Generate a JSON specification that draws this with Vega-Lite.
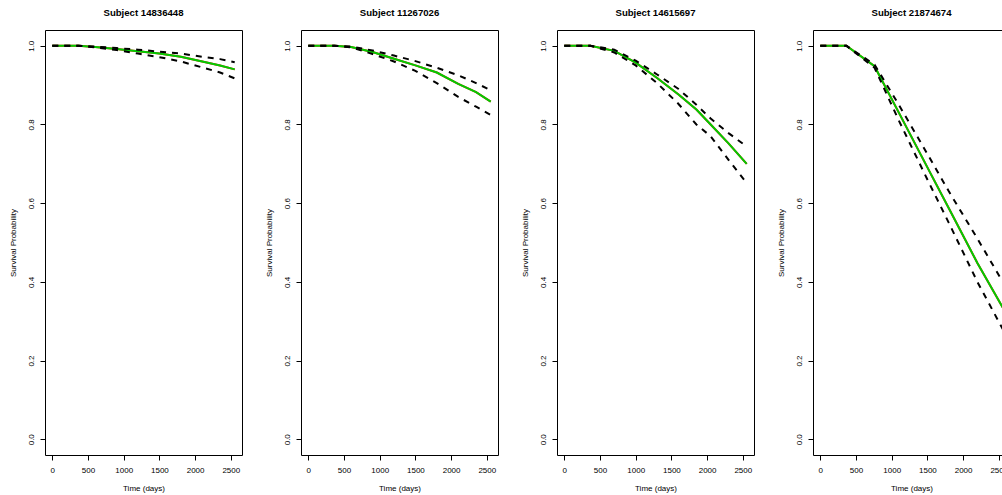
{
  "$schema": "https://vega.github.io/schema/vega-lite/v6.json",
  "background": "white",
  "autosize": {"type": "pad"},
  "padding": {"left": 8, "top": 7, "right": 0, "bottom": 0},
  "config": {
    "font": "Liberation Sans",
    "view": {"stroke": "#000000", "strokeWidth": 1},
    "axis": {
      "domain": false, "grid": false,
      "tickColor": "#000000", "tickSize": 5, "tickWidth": 1,
      "labelColor": "#000000", "labelFontSize": 8, "labelFont": "Liberation Sans",
      "titleColor": "#000000", "titleFontSize": 8, "titleFontWeight": "normal", "titleFont": "Liberation Sans"
    },
    "axisX": {"labelPadding": 6, "titlePadding": 10, "labelAngle": 0, "format": "d"},
    "axisY": {"labelPadding": 5, "titlePadding": 10, "labelAngle": -90, "labelAlign": "center", "labelBaseline": "bottom", "format": ".1f"},
    "title": {"fontSize": 9.6, "fontWeight": "bold", "color": "#000000", "font": "Liberation Sans", "baseline": "alphabetic", "offset": 12},
    "line": {"strokeWidth": 2}
  },
  "datasets": {
    "surv": [
      {"subject": "14836448", "time": 0, "est": 1, "lower": 1, "upper": 1},
      {"subject": "14836448", "time": 365, "est": 1, "lower": 1, "upper": 1},
      {"subject": "14836448", "time": 600, "est": 0.997, "lower": 0.996, "upper": 0.998},
      {"subject": "14836448", "time": 900, "est": 0.992, "lower": 0.989, "upper": 0.994},
      {"subject": "14836448", "time": 1200, "est": 0.986, "lower": 0.980, "upper": 0.990},
      {"subject": "14836448", "time": 1500, "est": 0.980, "lower": 0.971, "upper": 0.985},
      {"subject": "14836448", "time": 1800, "est": 0.972, "lower": 0.960, "upper": 0.980},
      {"subject": "14836448", "time": 2100, "est": 0.960, "lower": 0.945, "upper": 0.972},
      {"subject": "14836448", "time": 2350, "est": 0.950, "lower": 0.932, "upper": 0.966},
      {"subject": "14836448", "time": 2555, "est": 0.940, "lower": 0.917, "upper": 0.958},
      {"subject": "11267026", "time": 0, "est": 1, "lower": 1, "upper": 1},
      {"subject": "11267026", "time": 365, "est": 1, "lower": 1, "upper": 1},
      {"subject": "11267026", "time": 600, "est": 0.997, "lower": 0.996, "upper": 0.998},
      {"subject": "11267026", "time": 900, "est": 0.984, "lower": 0.979, "upper": 0.988},
      {"subject": "11267026", "time": 1200, "est": 0.967, "lower": 0.960, "upper": 0.975},
      {"subject": "11267026", "time": 1500, "est": 0.950, "lower": 0.936, "upper": 0.961},
      {"subject": "11267026", "time": 1800, "est": 0.932, "lower": 0.905, "upper": 0.944},
      {"subject": "11267026", "time": 2100, "est": 0.903, "lower": 0.870, "upper": 0.925},
      {"subject": "11267026", "time": 2350, "est": 0.882, "lower": 0.845, "upper": 0.905},
      {"subject": "11267026", "time": 2555, "est": 0.858, "lower": 0.824, "upper": 0.887},
      {"subject": "14615697", "time": 0, "est": 1, "lower": 1, "upper": 1},
      {"subject": "14615697", "time": 365, "est": 1, "lower": 1, "upper": 1},
      {"subject": "14615697", "time": 700, "est": 0.987, "lower": 0.983, "upper": 0.990},
      {"subject": "14615697", "time": 1000, "est": 0.957, "lower": 0.950, "upper": 0.962},
      {"subject": "14615697", "time": 1300, "est": 0.918, "lower": 0.905, "upper": 0.927},
      {"subject": "14615697", "time": 1600, "est": 0.876, "lower": 0.852, "upper": 0.890},
      {"subject": "14615697", "time": 1850, "est": 0.838, "lower": 0.800, "upper": 0.850},
      {"subject": "14615697", "time": 2050, "est": 0.800, "lower": 0.770, "upper": 0.815},
      {"subject": "14615697", "time": 2300, "est": 0.752, "lower": 0.710, "upper": 0.778},
      {"subject": "14615697", "time": 2555, "est": 0.700, "lower": 0.651, "upper": 0.744},
      {"subject": "21874674", "time": 0, "est": 1, "lower": 1, "upper": 1},
      {"subject": "21874674", "time": 365, "est": 1, "lower": 1, "upper": 1},
      {"subject": "21874674", "time": 760, "est": 0.948, "lower": 0.944, "upper": 0.952},
      {"subject": "21874674", "time": 1100, "est": 0.830, "lower": 0.810, "upper": 0.850},
      {"subject": "21874674", "time": 1500, "est": 0.691, "lower": 0.660, "upper": 0.725},
      {"subject": "21874674", "time": 1800, "est": 0.587, "lower": 0.550, "upper": 0.630},
      {"subject": "21874674", "time": 2200, "est": 0.448, "lower": 0.400, "upper": 0.510},
      {"subject": "21874674", "time": 2555, "est": 0.335, "lower": 0.280, "upper": 0.400}
    ]
  },
  "spacing": 59,
  "bounds": "flush",
  "hconcat": [
    {
      "title": "Subject 14836448",
      "width": 197, "height": 425,
      "data": {"name": "surv"},
      "transform": [{"filter": "datum.subject == '14836448'"}],
      "encoding": {"x": {"field": "time", "type": "quantitative", "title": "Time (days)", "scale": {"domain": [-102, 2657], "nice": false, "zero": false}, "axis": {"values": [0, 500, 1000, 1500, 2000, 2500]}}},
      "layer": [
        {"mark": {"type": "line", "color": "#ff0000"}, "encoding": {"y": {"field": "est", "type": "quantitative", "title": "Survival Probability", "scale": {"domain": [-0.04, 1.04], "nice": false, "zero": false}, "axis": {"values": [0, 0.2, 0.4, 0.6, 0.8, 1.0]}}}},
        {"mark": {"type": "line", "color": "#00cd00"}, "encoding": {"y": {"field": "est", "type": "quantitative", "title": "Survival Probability"}}},
        {"mark": {"type": "line", "color": "#000000", "strokeDash": [6, 6]}, "encoding": {"y": {"field": "lower", "type": "quantitative", "title": "Survival Probability"}}},
        {"mark": {"type": "line", "color": "#000000", "strokeDash": [6, 6]}, "encoding": {"y": {"field": "upper", "type": "quantitative", "title": "Survival Probability"}}}
      ]
    },
    {
      "title": "Subject 11267026",
      "width": 197, "height": 425,
      "data": {"name": "surv"},
      "transform": [{"filter": "datum.subject == '11267026'"}],
      "encoding": {"x": {"field": "time", "type": "quantitative", "title": "Time (days)", "scale": {"domain": [-102, 2657], "nice": false, "zero": false}, "axis": {"values": [0, 500, 1000, 1500, 2000, 2500]}}},
      "layer": [
        {"mark": {"type": "line", "color": "#ff0000"}, "encoding": {"y": {"field": "est", "type": "quantitative", "title": "Survival Probability", "scale": {"domain": [-0.04, 1.04], "nice": false, "zero": false}, "axis": {"values": [0, 0.2, 0.4, 0.6, 0.8, 1.0]}}}},
        {"mark": {"type": "line", "color": "#00cd00"}, "encoding": {"y": {"field": "est", "type": "quantitative", "title": "Survival Probability"}}},
        {"mark": {"type": "line", "color": "#000000", "strokeDash": [6, 6]}, "encoding": {"y": {"field": "lower", "type": "quantitative", "title": "Survival Probability"}}},
        {"mark": {"type": "line", "color": "#000000", "strokeDash": [6, 6]}, "encoding": {"y": {"field": "upper", "type": "quantitative", "title": "Survival Probability"}}}
      ]
    },
    {
      "title": "Subject 14615697",
      "width": 197, "height": 425,
      "data": {"name": "surv"},
      "transform": [{"filter": "datum.subject == '14615697'"}],
      "encoding": {"x": {"field": "time", "type": "quantitative", "title": "Time (days)", "scale": {"domain": [-102, 2657], "nice": false, "zero": false}, "axis": {"values": [0, 500, 1000, 1500, 2000, 2500]}}},
      "layer": [
        {"mark": {"type": "line", "color": "#ff0000"}, "encoding": {"y": {"field": "est", "type": "quantitative", "title": "Survival Probability", "scale": {"domain": [-0.04, 1.04], "nice": false, "zero": false}, "axis": {"values": [0, 0.2, 0.4, 0.6, 0.8, 1.0]}}}},
        {"mark": {"type": "line", "color": "#00cd00"}, "encoding": {"y": {"field": "est", "type": "quantitative", "title": "Survival Probability"}}},
        {"mark": {"type": "line", "color": "#000000", "strokeDash": [6, 6]}, "encoding": {"y": {"field": "lower", "type": "quantitative", "title": "Survival Probability"}}},
        {"mark": {"type": "line", "color": "#000000", "strokeDash": [6, 6]}, "encoding": {"y": {"field": "upper", "type": "quantitative", "title": "Survival Probability"}}}
      ]
    },
    {
      "title": "Subject 21874674",
      "width": 197, "height": 425,
      "data": {"name": "surv"},
      "transform": [{"filter": "datum.subject == '21874674'"}],
      "encoding": {"x": {"field": "time", "type": "quantitative", "title": "Time (days)", "scale": {"domain": [-102, 2657], "nice": false, "zero": false}, "axis": {"values": [0, 500, 1000, 1500, 2000, 2500]}}},
      "layer": [
        {"mark": {"type": "line", "color": "#ff0000"}, "encoding": {"y": {"field": "est", "type": "quantitative", "title": "Survival Probability", "scale": {"domain": [-0.04, 1.04], "nice": false, "zero": false}, "axis": {"values": [0, 0.2, 0.4, 0.6, 0.8, 1.0]}}}},
        {"mark": {"type": "line", "color": "#00cd00"}, "encoding": {"y": {"field": "est", "type": "quantitative", "title": "Survival Probability"}}},
        {"mark": {"type": "line", "color": "#000000", "strokeDash": [6, 6]}, "encoding": {"y": {"field": "lower", "type": "quantitative", "title": "Survival Probability"}}},
        {"mark": {"type": "line", "color": "#000000", "strokeDash": [6, 6]}, "encoding": {"y": {"field": "upper", "type": "quantitative", "title": "Survival Probability"}}}
      ]
    }
  ]
}
